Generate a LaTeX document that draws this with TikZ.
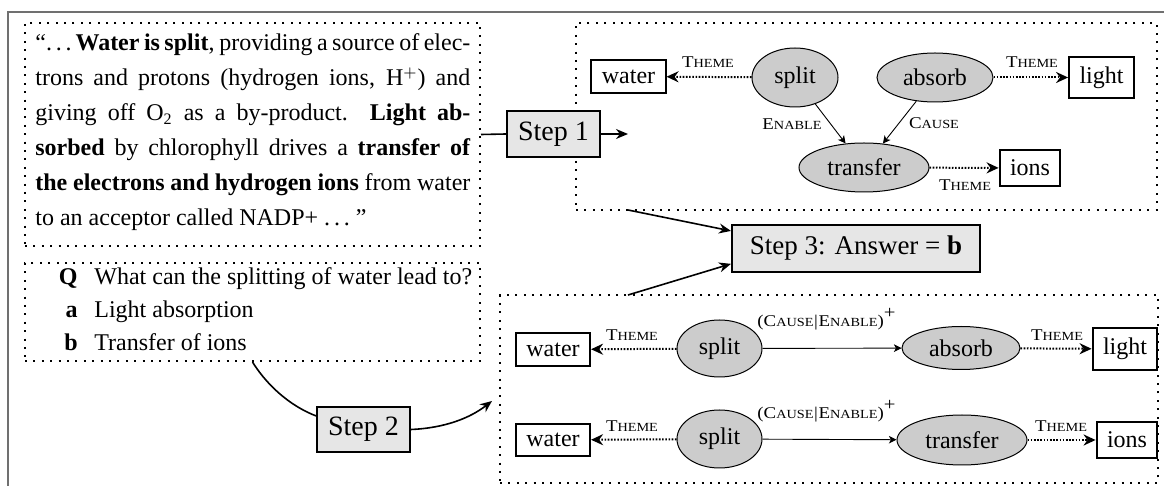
\documentclass[tikz,border=0pt]{standalone}
\usepackage{fontspec}
\setmainfont{Liberation Serif}
\newfontfamily\labfam[FakeStretch=1.15]{Liberation Serif}
\usetikzlibrary{shapes.geometric,arrows.meta}
\definecolor{evgray}{HTML}{CCCCCC}
\definecolor{stepgray}{HTML}{E6E6E6}
\definecolor{framegray}{HTML}{707070}
\newcommand\FSC[2]{{\fontsize{8.2}{9}\selectfont #1}{\fontsize{6.2}{7}\selectfont #2}}
\newcommand\lb[1]{{\fontsize{8.2}{9}\selectfont #1}}
\newcommand\mydots{.\kern0.16em.\kern0.16em.}
\newcommand\celab{\lb{(}\FSC{C}{AUSE}\lb{\kern0.3pt|\kern0.3pt}\FSC{E}{NABLE}\lb{)}\raisebox{3.8pt}{\fontsize{9}{9}\selectfont +}}
\begin{document}
\begin{tikzpicture}[x=0.5pt,y=-0.5pt,
  dbox/.style={draw, line width=1pt, dash pattern=on 1pt off 3.2pt, inner sep=0pt},
  wbox/.style={draw, line width=1pt, fill=white, inner xsep=5.2pt, inner ysep=4.8pt, font=\fontsize{12}{14}\selectfont},
  ev/.style={ellipse, draw, line width=0.5pt, fill=evgray, inner sep=0pt, font=\fontsize{12}{14}\selectfont},
  stepbox/.style={draw, line width=1pt, fill=stepgray, inner sep=0pt, font=\fontsize{14}{16}\selectfont},
  lab/.style={inner sep=0pt, font=\labfam},
  txt/.style={inner sep=0pt, font=\fontsize{12}{14}\selectfont},
  theme/.style={line width=1pt, dash pattern=on 0.8pt off 0.8pt, -{Stealth[length=6pt,width=5.5pt]}},
  rel/.style={line width=0.45pt, -{Stealth[length=3.8pt,width=3.8pt,inset=1pt]}},
  slink/.style={line width=0.8pt},
  steparrow/.style={slink, -{Stealth[length=6pt,width=5pt]}}
]
\useasboundingbox (0,0) rectangle (1164,486);
\draw[framegray, line width=1.2pt] (8,486) -- (8,12) -- (1164,12);

% dotted frames
\node[dbox, minimum width=227.5pt, minimum height=111.5pt] (passage) at (252.5,134.5) {};
\node[dbox, minimum width=227.5pt, minimum height=49pt] (qbox) at (252.5,312) {};
\node[dbox, minimum width=290.5pt, minimum height=93.5pt] (gtop) at (866.5,116.5) {};
\node[dbox, minimum width=329pt, minimum height=94pt] (gbot) at (829,389) {};

% passage text
\node[txt, anchor=base west] (ptext) at (35,51) {\vtop{\hsize=217.5pt \baselineskip=17.5pt
\hbox to\hsize{“\mydots\kern0.16em\textbf{Water is split}, providing a source of elec-}
\hbox to\hsize{trons and protons (hydrogen ions, H$^{+}$) and}
\hbox to\hsize{giving off O\textsubscript{2} as a by-product.\ \ \textbf{Light ab-}}
\hbox to\hsize{\textbf{sorbed} by chlorophyll drives a \textbf{transfer of}}
\hbox to\hsize{\textbf{the electrons and hydrogen ions} from water}
\hbox to\hsize{to an acceptor called NADP+ \mydots\ ”\hfil}}};

% question
\node[txt, anchor=base east] (qQ) at (78,285) {\textbf{Q}};
\node[txt, anchor=base west] (qQt) at (94,285) {What can the splitting of water lead to?};
\node[txt, anchor=base east] (qa) at (78,318) {\textbf{a}};
\node[txt, anchor=base west] (qat) at (94,318) {Light absorption};
\node[txt, anchor=base east] (qb) at (78,351) {\textbf{b}};
\node[txt, anchor=base west] (qbt) at (94,351) {Transfer of ions};

% top graph
\node[ev, minimum width=43pt, minimum height=29.5pt] (split1) at (795,77.5) {split};
\node[ev, minimum width=58pt, minimum height=24.5pt] (absorb1) at (935,77.5) {absorb};
\node[ev, minimum width=65pt, minimum height=24.5pt] (transfer1) at (864,167.5) {transfer};
\node[wbox] (water1) at (628.5,76.5) {water};
\node[wbox] (light1) at (1101.5,77.5) {light};
\node[wbox] (ions1) at (1030,168) {ions};
\node[lab] (th1) at (708,62) {\FSC{T}{HEME}};
\node[lab] (th2) at (1032,62) {\FSC{T}{HEME}};
\node[lab] (en1) at (792,124) {\FSC{E}{NABLE}};
\node[lab] (ca1) at (934,123) {\FSC{C}{AUSE}};
\node[lab] (th3) at (965,185) {\FSC{T}{HEME}};
\draw[theme] (split1) -- (water1);
\draw[theme] (absorb1) -- (light1);
\draw[rel] (split1) -- (transfer1);
\draw[rel] (absorb1) -- (transfer1);
\draw[theme] (transfer1) -- (ions1);

% bottom graph, row 1
\node[wbox] (water2) at (553,349.5) {water};
\node[ev, minimum width=42.5pt, minimum height=28.5pt] (split2) at (719.5,348.5) {split};
\node[ev, minimum width=59pt, minimum height=21.5pt] (absorb2) at (961,348) {absorb};
\node[wbox] (light2) at (1125,349) {light};
\node[lab] (th4) at (632,335) {\FSC{T}{HEME}};
\node[lab] (th5) at (1057,335) {\FSC{T}{HEME}};
\node[lab] (ce1) at (826.5,319) {\celab};
\draw[theme] (split2) -- (water2);
\draw[rel] (split2) -- (absorb2);
\draw[theme] (absorb2) -- (light2);

% bottom graph, row 2
\node[wbox] (water3) at (553,440) {water};
\node[ev, minimum width=42.5pt, minimum height=29pt] (split3) at (719.5,439) {split};
\node[ev, minimum width=65pt, minimum height=25pt] (transfer2) at (962,440) {transfer};
\node[wbox] (ions2) at (1127,440) {ions};
\node[lab] (th6) at (632,426) {\FSC{T}{HEME}};
\node[lab] (th7) at (1061,426) {\FSC{T}{HEME}};
\node[lab] (ce2) at (826.5,411) {\celab};
\draw[theme] (split3) -- (water3);
\draw[rel] (split3) -- (transfer2);
\draw[theme] (transfer2) -- (ions2);

% steps
\node[stepbox, minimum width=46.5pt, minimum height=23pt] (step1) at (553.5,134) {Step 1};
\node[stepbox, minimum width=46.5pt, minimum height=22.5pt] (step2) at (363.5,429.5) {Step 2};
\node[stepbox, minimum width=124pt, minimum height=23.5pt, font=\fontsize{13.5}{15}\selectfont] (step3) at (856,248.5) {Step 3: Answer = \textbf{b}};

\coordinate (s1end) at (628,134);
\coordinate (s2end) at (492,401);
\coordinate (s3a) at (628,210);
\coordinate (s3b) at (628,295);

\draw[slink] (passage.east) -- (step1.west);
\draw[steparrow] (step1.east) -- (s1end);
\draw[slink] (qbox.south) .. controls (270,390) and (295,408) .. (step2.164);
\draw[steparrow] (step2.east) .. controls (445,428) and (470,418) .. (s2end);
\draw[steparrow] (s3a) -- (step3.172.4);
\draw[steparrow] (s3b) -- (step3.187.6);
\end{tikzpicture}
\end{document}
